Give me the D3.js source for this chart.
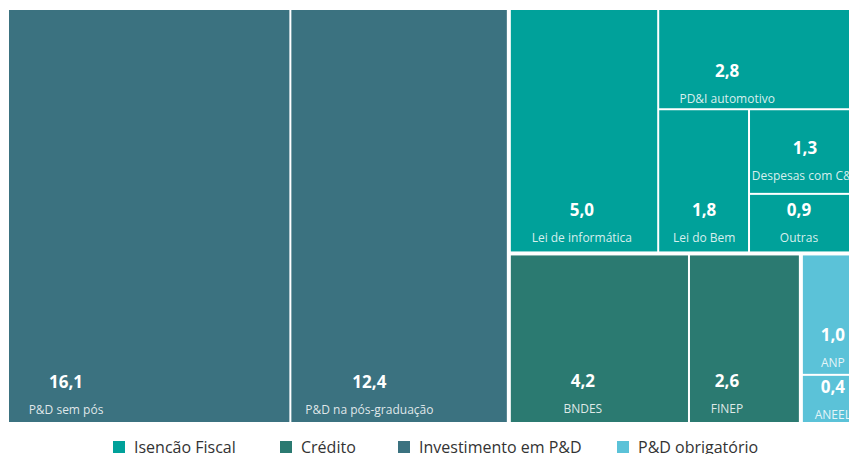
<!DOCTYPE html>
<html>
<head>
<meta charset="utf-8">
<script src="https://cdn.jsdelivr.net/npm/d3@7"></script>
<style>
  body { margin: 0; background: #fff; }
  svg { display: block; font-family: "Open Sans", sans-serif; }
</style>
</head>
<body>
<svg id="chart" width="849" height="454"></svg>
<script>
// ------------------------------------
// Data
// ------------------------------------
const groups = ["Isencão Fiscal", "Crédito", "Investimento em P&D", "P&D obrigatório"];
const groupColors = ["#00a19a", "#2b7a71", "#3b7280", "#5bc2d8"];

const items = ["P&D sem pós", "P&D na pós-graduação", "Lei de informática", "PD&I automotivo",
  "Lei do Bem", "Despesas com C&T", "Outras", "BNDES", "FINEP", "ANP", "ANEEL"];
const itemGroup = [2, 2, 0, 0, 0, 0, 0, 1, 1, 3, 3];
const values = [16.1, 12.4, 5.0, 2.8, 1.8, 1.3, 0.9, 4.2, 2.6, 1.0, 0.4];

// label placement inside each cell: [x from cell left, value baseline from cell bottom]
const labelPlace = {
  "P&D sem pós": [57, -34],
  "P&D na pós-graduação": [78, -34],
  "Lei de informática": [71, -35],
  "PD&I automotivo": [68, -31],
  "Lei do Bem": [45, -35],
  "Despesas com C&T": [55, -39],
  "Outras": [49, -35],
  "BNDES": [72, -35],
  "FINEP": [37, -35],
  "ANP": [30, -33],
  "ANEEL": [30, -29]
};
const legendX = [113, 280, 398, 617];

// ------------------------------------
// Layout
// ------------------------------------
const svg = d3.select("#chart");
const margin = { left: 9, top: 10 };
const width = 850, height = 412;

const color = d3.scaleOrdinal().domain(groups).range(groupColors);

const tree = {
  name: "root",
  children: groups.map((g, gi) => ({
    name: g,
    children: items
      .map((name, i) => ({ name, value: values[i], group: itemGroup[i] }))
      .filter(d => d.group === gi)
  }))
};

const root = d3.hierarchy(tree)
  .sum(d => d.value || 0)
  .sort((a, b) => b.value - a.value);

d3.treemap()
  .tile(d3.treemapBinary)
  .size([width, height])
  .paddingInner(d => d.depth === 0 ? 4 : 2)
  (root);

const g = svg.append("g")
  .attr("transform", `translate(${margin.left},${margin.top})`);

const fmt = v => v.toFixed(1).replace(".", ",");

const cell = g.selectAll(".cell")
  .data(root.leaves())
  .join("g")
  .attr("class", "cell")
  .attr("transform", d => `translate(${d.x0},${d.y0})`);

cell.append("clipPath")
  .attr("id", (d, i) => "clip" + i)
  .append("rect")
  .attr("width", d => d.x1 - d.x0)
  .attr("height", d => d.y1 - d.y0);

cell.append("rect")
  .attr("width", d => d.x1 - d.x0)
  .attr("height", d => d.y1 - d.y0)
  .attr("fill", d => color(d.parent.data.name));

const txt = cell.append("g")
  .attr("clip-path", (d, i) => `url(#clip${i})`);

txt.append("text")
  .attr("x", d => labelPlace[d.data.name][0])
  .attr("y", d => (d.y1 - d.y0) + labelPlace[d.data.name][1])
  .attr("text-anchor", "middle")
  .attr("fill", "#fff")
  .attr("font-size", 17)
  .attr("font-weight", 700)
  .text(d => fmt(d.data.value));

txt.append("text")
  .attr("x", d => labelPlace[d.data.name][0])
  .attr("y", d => (d.y1 - d.y0) + labelPlace[d.data.name][1] + 26)
  .attr("text-anchor", "middle")
  .attr("fill", "#fff")
  .attr("fill-opacity", 0.85)
  .attr("font-size", 12)
  .text(d => d.data.name);

// ------------------------------------
// Legend
// ------------------------------------
const legend = svg.append("g").attr("class", "legend");

const li = legend.selectAll("g")
  .data(groups)
  .join("g")
  .attr("transform", (d, i) => `translate(${legendX[i]},441)`);

li.append("rect")
  .attr("width", 12)
  .attr("height", 12)
  .attr("fill", d => color(d));

li.append("text")
  .attr("x", 21)
  .attr("y", 12)
  .attr("font-size", 16)
  .attr("fill", "#333")
  .text(d => d);
</script>
</body>
</html>
